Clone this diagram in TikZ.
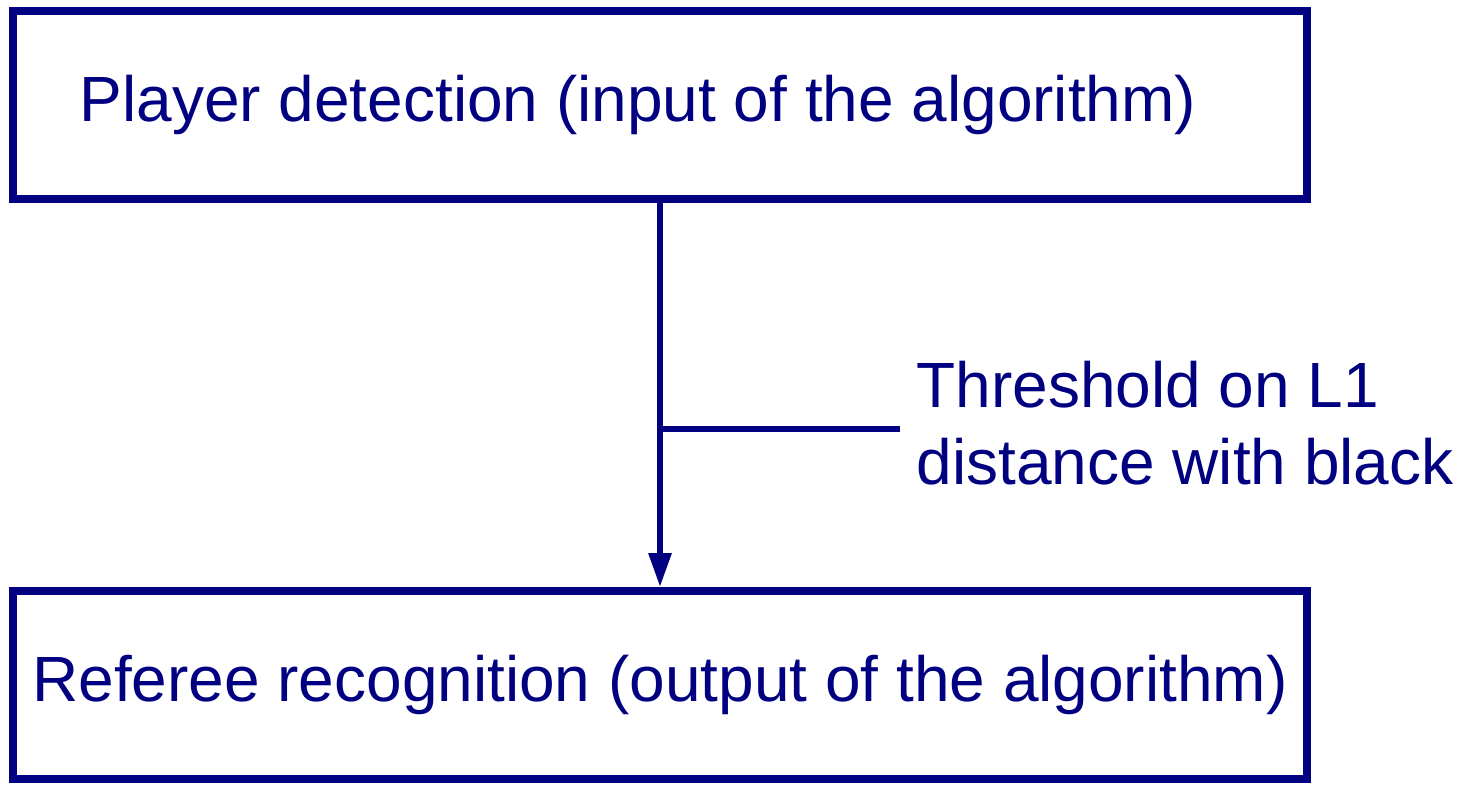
\documentclass[tikz,border=0pt]{standalone}
\usepackage{fontspec}
\setmainfont{Liberation Sans}
\usetikzlibrary{arrows.meta,positioning}
\definecolor{navy}{HTML}{000080}
\tikzset{
    stagebox/.style={draw=navy, line width=0.08cm, minimum width=12.94cm, minimum height=1.88cm,
        inner sep=0pt, text=navy, font=\fontsize{18.2}{21.9}\selectfont},
    flow/.style={draw=navy, line width=0.06cm},
}
\begin{document}
\begin{tikzpicture}
    \useasboundingbox (0,0) rectangle (14.67,7.84);
    \node[stagebox] (detect) at (6.60,6.79) {Player detection (input of the algorithm)\hspace*{0.44cm}};
    \node[stagebox] (referee) at (6.60,0.99) {Referee recognition (output of the algorithm)};
    \draw[flow, -{Triangle[length=0.34cm, width=0.22cm]}] (detect.south) -- (referee.north);
    \coordinate (branch) at (6.61,3.55);
    \coordinate (branchend) at (9.00,3.55);
    \draw[flow] (branch) -- (branchend);
    \node[anchor=west, text=navy, align=left, font=\fontsize{18.2}{21.9}\selectfont, inner sep=0pt]
        (threshold) at (9.16,3.61) {Threshold on L1\\distance with black};
\end{tikzpicture}
\end{document}
